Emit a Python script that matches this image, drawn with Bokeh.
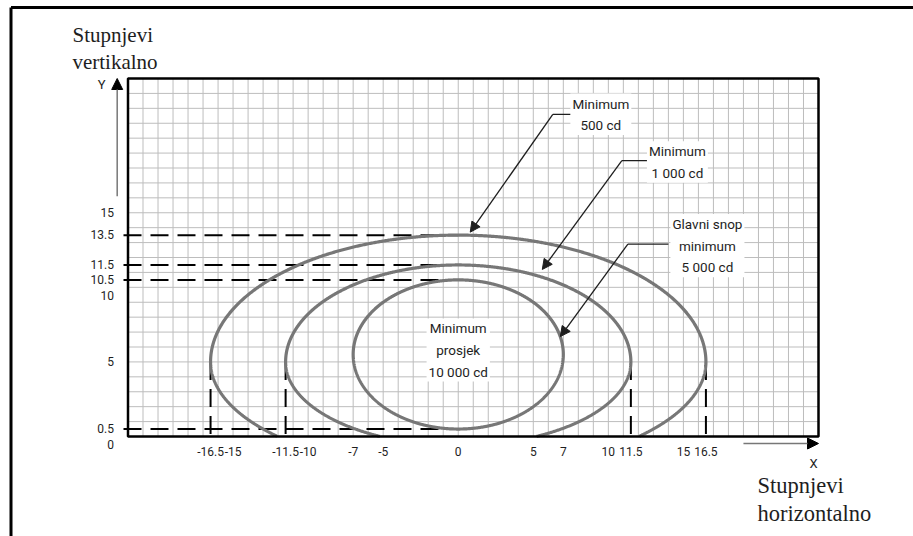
import numpy as np
from bokeh.plotting import figure
from bokeh.models import Arrow, NormalHead, Label, FixedTicker, Range1d
from bokeh.embed import file_html
from bokeh.resources import INLINE

# ---------------- data ----------------
X_TICKS = [-16.5, -15, -11.5, -10, -7, -5, 0, 5, 7, 10, 11.5, 15, 16.5]
X_TICK_LABELS = ["-16.5", "-15", "-11.5", "-10", "-7", "-5", "0", "5", "7", "10", "11.5", "15", "16.5"]
Y_TICKS = [0, 0.5, 5, 10, 10.5, 11.5, 13.5, 15]
Y_TICK_LABELS = ["\n0", "0.5", "5", "\n10", "10.5", "11.5", "13.5", "15"]

# iso-candela curves: half width, y of widest point, top, bottom
CURVE_NAMES = ["500 cd", "1 000 cd", "10 000 cd"]
CURVE_HALF_WIDTH = [16.5, 11.5, 7.0]
CURVE_CENTER_Y = [5.0, 5.0, 5.5]
CURVE_TOP = [13.5, 11.5, 10.5]
CURVE_BOTTOM = [-2.3, -0.6, 0.5]

# reference dashed lines
H_DASH_Y = [13.5, 11.5, 10.5, 0.5]
H_DASH_X_END = [0, 0, 0, 0]
V_DASH_X = [-16.5, -11.5, 11.5, 16.5]
V_DASH_Y_TOP = [5, 5, 5, 5]

# annotations
ANNOT_TEXT = ["Minimum\n500 cd", "Minimum\n1 000 cd",
              "Glavni snop\nminimum\n5 000 cd", "Minimum\nprosjek\n10 000 cd"]
ANNOT_X = [9.5, 14.6, 16.6, 0.0]
ANNOT_Y = [21.6, 18.4, 12.8, 5.8]
LEADER_START_X = [7.5, 12.65, 14.0]
LEADER_ELBOW_X = [6.3, 10.9, 11.3]
LEADER_Y = [21.6, 18.5, 12.9]
LEADER_TIP_X = [0.8, 5.6, 6.8]
LEADER_TIP_Y = [13.7, 11.2, 6.7]

X_MIN, X_MAX = -22, 24
Y_MIN, Y_MAX = 0, 24

# ---------------- layout (pixels) ----------------
W, H = 913, 536
BOX_LEFT, BOX_RIGHT = 127.5, 818.0     # canvas position of chart box
BOX_TOP, BOX_BOTTOM = 78.0, 436.0
PX_X = (BOX_RIGHT - BOX_LEFT) / (X_MAX - X_MIN)
PX_Y = (BOX_BOTTOM - BOX_TOP) / (Y_MAX - Y_MIN)
x0 = X_MIN - BOX_LEFT / PX_X
y1 = Y_MAX + BOX_TOP / PX_Y
XR = Range1d(x0, x0 + W / PX_X)
YR = Range1d(y1 - H / PX_Y, y1)

SANS = "Roboto, 'Liberation Sans', sans-serif"
SERIF = "'Liberation Serif', 'DejaVu Serif', serif"
INK = "#1e1e1e"

p = figure(width=W, height=H, output_backend="svg", toolbar_location=None,
           x_range=XR, y_range=YR, min_border=0)
p.background_fill_color = "white"
p.border_fill_color = "white"
p.outline_line_color = None
p.xgrid.visible = False
p.ygrid.visible = False

# ---------------- grid inside the chart box ----------------
gx = list(range(X_MIN, X_MAX + 1))
gy = list(range(Y_MIN, Y_MAX + 1))
p.segment(x0=gx, y0=[Y_MIN] * len(gx), x1=gx, y1=[Y_MAX] * len(gx),
          line_color="#bdbdbd", line_width=1)
p.segment(x0=[X_MIN] * len(gy), y0=gy, x1=[X_MAX] * len(gy), y1=gy,
          line_color="#bdbdbd", line_width=1)

# ---------------- dashed reference lines ----------------
p.segment(x0=[X_MIN - 0.3] * len(H_DASH_Y), y0=H_DASH_Y, x1=H_DASH_X_END, y1=H_DASH_Y,
          line_color="black", line_width=2, line_dash="18 9")
p.segment(x0=V_DASH_X, y0=V_DASH_Y_TOP, x1=V_DASH_X, y1=[Y_MIN - 0.42] * len(V_DASH_X),
          line_color="black", line_width=2, line_dash="18 9")

# ---------------- iso-candela curves ----------------
t = np.linspace(0, 2 * np.pi, 1441)
for a, yc, yt, yb in zip(CURVE_HALF_WIDTH, CURVE_CENTER_Y, CURVE_TOP, CURVE_BOTTOM):
    s = np.sin(t)
    xs = a * np.cos(t)
    ys = np.where(s >= 0, yc + (yt - yc) * s, yc + (yc - yb) * s)
    ys = np.where(ys < Y_MIN, np.nan, ys)
    p.line(xs, ys, line_color="#777777", line_width=3.2)

# chart box
p.quad(left=[X_MIN], right=[X_MAX], bottom=[Y_MIN], top=[Y_MAX],
       fill_color=None, line_color="black", line_width=2.5)

# ---------------- axes (tick labels) ----------------
p.xaxis.ticker = FixedTicker(ticks=X_TICKS)
p.xaxis.major_label_overrides = {tk: s for tk, s in zip(X_TICKS, X_TICK_LABELS)}
p.yaxis.ticker = FixedTicker(ticks=Y_TICKS)
p.yaxis.major_label_overrides = {tk: s for tk, s in zip(Y_TICKS, Y_TICK_LABELS)}
p.xaxis.fixed_location = Y_MIN
p.yaxis.fixed_location = X_MIN
for ax in (p.xaxis[0], p.yaxis[0]):
    ax.axis_line_color = None
    ax.major_tick_line_color = None
    ax.minor_tick_line_color = None
    ax.major_tick_out = 0
    ax.major_tick_in = 0
    ax.major_label_text_font = SANS
    ax.major_label_text_font_size = "12px"
    ax.major_label_text_color = INK
p.xaxis.major_label_standoff = 10
p.yaxis.major_label_standoff = 14

# ---------------- leaders ----------------
p.segment(x0=LEADER_START_X, y0=LEADER_Y, x1=LEADER_ELBOW_X, y1=LEADER_Y,
          line_color=INK, line_width=1.3)
for xe, yl, xt, yt in zip(LEADER_ELBOW_X, LEADER_Y, LEADER_TIP_X, LEADER_TIP_Y):
    p.add_layout(Arrow(end=NormalHead(size=10, fill_color=INK, line_color=INK, line_width=1),
                       x_start=xe, y_start=yl, x_end=xt, y_end=yt,
                       line_color=INK, line_width=1.3))

for txt, xv, yv in zip(ANNOT_TEXT, ANNOT_X, ANNOT_Y):
    p.add_layout(Label(x=xv, y=yv, text=txt, text_align="center", text_baseline="middle",
                       text_font=SANS, text_font_size="13.5px", text_color=INK,
                       text_line_height=1.35, background_fill_color="white",
                       background_fill_alpha=1.0, padding=2))

# ---------------- axis arrows and titles ----------------
p.add_layout(Arrow(end=NormalHead(size=11, fill_color="black", line_color="black"),
                   x_start=X_MIN - 0.72, y_start=16.1, x_end=X_MIN - 0.72, y_end=Y_MAX,
                   line_color="#777777", line_width=1.5))
p.add_layout(Arrow(end=NormalHead(size=11, fill_color="black", line_color="black"),
                   x_start=19.0, y_start=Y_MIN - 0.47, x_end=X_MAX, y_end=Y_MIN - 0.47,
                   line_color="#777777", line_width=1.5))
p.add_layout(Label(x=X_MIN - 1.76, y=23.6, text="Y", text_align="center", text_baseline="middle",
                   text_font=SANS, text_font_size="13px", text_color=INK))
p.add_layout(Label(x=X_MAX - 0.33, y=Y_MIN - 1.81, text="X", text_align="center", text_baseline="middle",
                   text_font=SANS, text_font_size="13px", text_color=INK))
p.add_layout(Label(x=-25.7, y=27.7, text="Stupnjevi\nvertikalno", text_align="left", text_baseline="top",
                   text_font=SERIF, text_font_size="21px", text_color=INK, text_line_height=1.1))
p.add_layout(Label(x=19.94, y=-2.45, text="Stupnjevi\nhorizontalno", text_align="left", text_baseline="top",
                   text_font=SERIF, text_font_size="22.5px", text_color=INK, text_line_height=1.1))

# outer picture border (left and top edges)
bx = XR.start + 10.5 / PX_X
by = YR.end - 7.0 / PX_Y
p.segment(x0=[bx, bx], y0=[YR.start, by], x1=[bx, XR.end], y1=[by, by],
          line_color="black", line_width=3)

open("out.html", "w").write(file_html(p, INLINE))
